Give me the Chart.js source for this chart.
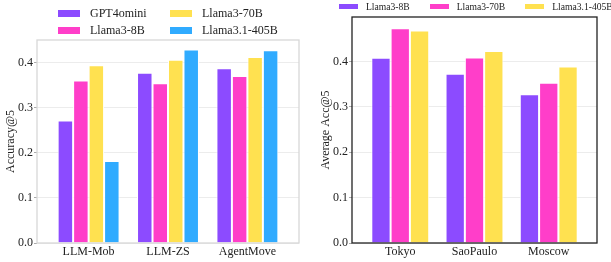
<!DOCTYPE html>
<html>
<head>
<meta charset="utf-8">
<script src="https://cdn.jsdelivr.net/npm/chart.js@4"></script>
<style>
  body { margin: 0; background: #fff; }
  #wrap { position: relative; width: 611px; height: 262px; font-family: 'Liberation Serif', serif; color: #222; }
  .panel { position: absolute; top: 0; height: 262px; }
  #left { left: 0; width: 305px; }
  #right { left: 305px; width: 306px; }
  .legend { position: absolute; font-size: 12px; line-height: 17px; }
  #leftLegend { left: 58px; top: 5px; display: grid; grid-template-columns: 112px auto; grid-template-rows: 17px 17px; grid-auto-flow: column; }
  #rightLegend { left: 34px; top: -2px; display: flex; gap: 20px; font-size: 9.6px; }
  .item { display: flex; align-items: center; white-space: nowrap; }
  .box { display: inline-block; }
  #leftLegend .box { width: 22px; height: 7px; margin-right: 10px; }
  #rightLegend .box { width: 19px; height: 5px; margin-right: 8px; }
</style>
</head>
<body>
<div id="wrap">
  <div class="panel" id="left"><canvas id="chartLeft" width="305" height="262"></canvas><div class="legend" id="leftLegend"></div></div>
  <div class="panel" id="right"><canvas id="chartRight" width="306" height="262"></canvas><div class="legend" id="rightLegend"></div></div>
</div>
<script>
// left chart: methods
const methods = ['LLM-Mob', 'LLM-ZS', 'AgentMove'];
const gpt4omini = [0.272, 0.378, 0.388];
const llama8b = [0.361, 0.355, 0.371];
const llama70b = [0.395, 0.407, 0.413];
const llama405b = [0.182, 0.430, 0.428];

// right chart: cities
const cities = ['Tokyo', 'SaoPaulo', 'Moscow'];
const city8b = [0.408, 0.373, 0.328];
const city70b = [0.473, 0.409, 0.353];
const city405b = [0.468, 0.423, 0.389];

const yTicks = [0, 0.1, 0.2, 0.3, 0.4];

const colors = {
  purple: '#8c4bff',
  pink: '#ff3ec9',
  yellow: '#ffe150',
  blue: '#30abff'
};

Chart.defaults.font.family = "'Liberation Serif', serif";
Chart.defaults.font.size = 12;
Chart.defaults.color = '#222';

const toPoints = vals => vals.map((v, i) => ({ x: i, y: v }));

function makeDataset(label, vals, color) {
  return {
    label: label,
    data: toPoints(vals),
    backgroundColor: color,
    borderColor: '#ffffff',
    borderWidth: 1,
    categoryPercentage: 0.78,
    barPercentage: 1
  };
}

// frame round the plot area
const frame = color => ({
  id: 'frame',
  afterDraw(chart) {
    const a = chart.chartArea;
    const ctx = chart.ctx;
    ctx.save();
    ctx.strokeStyle = color;
    ctx.lineWidth = 1.3;
    ctx.strokeRect(a.left, a.top, a.right - a.left, a.bottom - a.top);
    ctx.restore();
  }
});

function buildChart(el, labels, datasets, opts) {
  return new Chart(el, {
    type: 'bar',
    data: { datasets: datasets },
    options: {
      responsive: false,
      animation: false,
      layout: { padding: opts.padding },
      plugins: { legend: { display: false }, tooltip: { enabled: false } },
      scales: {
        x: {
          type: 'linear',
          min: -0.65,
          max: 2.65,
          offset: false,
          grid: { display: false, drawTicks: false },
          border: { display: false },
          ticks: { padding: 2, autoSkip: false, callback: v => labels[v] },
          afterBuildTicks: s => { s.ticks = labels.map((_, i) => ({ value: i })); },
          afterFit: s => { s.height = 19; }
        },
        y: {
          min: 0,
          max: opts.yMax,
          grid: { color: '#ececec', lineWidth: 1, tickLength: 3, tickColor: '#aaa' },
          border: { display: false },
          ticks: { padding: 1, callback: v => v.toFixed(1) },
          afterBuildTicks: s => { s.ticks = yTicks.map(v => ({ value: v })); },
          afterFit: s => { s.width = opts.yWidth; },
          title: { display: true, text: opts.yTitle, font: { size: 12 }, padding: { top: 4, bottom: 4 } }
        }
      }
    },
    plugins: [frame(opts.frameColor)]
  });
}

const leftChart = buildChart(document.getElementById('chartLeft'), methods, [
  makeDataset('GPT4omini', gpt4omini, colors.purple),
  makeDataset('Llama3-8B', llama8b, colors.pink),
  makeDataset('Llama3-70B', llama70b, colors.yellow),
  makeDataset('Llama3.1-405B', llama405b, colors.blue)
], { padding: { left: 0, right: 6, top: 40, bottom: 0 }, yMax: 0.451, yWidth: 37, yTitle: 'Accuracy@5', frameColor: '#d8d8d8' });

const rightChart = buildChart(document.getElementById('chartRight'), cities, [
  makeDataset('Llama3-8B', city8b, colors.purple),
  makeDataset('Llama3-70B', city70b, colors.pink),
  makeDataset('Llama3.1-405B', city405b, colors.yellow)
], { padding: { left: 10, right: 14, top: 17, bottom: 0 }, yMax: 0.498, yWidth: 37, yTitle: 'Average Acc@5', frameColor: '#222' });

// html legends built from the datasets
function fillLegend(chart, id) {
  const box = document.getElementById(id);
  chart.data.datasets.forEach(ds => {
    const item = document.createElement('div');
    item.className = 'item';
    item.innerHTML = `<span class="box" style="background:${ds.backgroundColor}"></span><span>${ds.label}</span>`;
    box.appendChild(item);
  });
}
fillLegend(leftChart, 'leftLegend');
fillLegend(rightChart, 'rightLegend');
</script>
</body>
</html>
